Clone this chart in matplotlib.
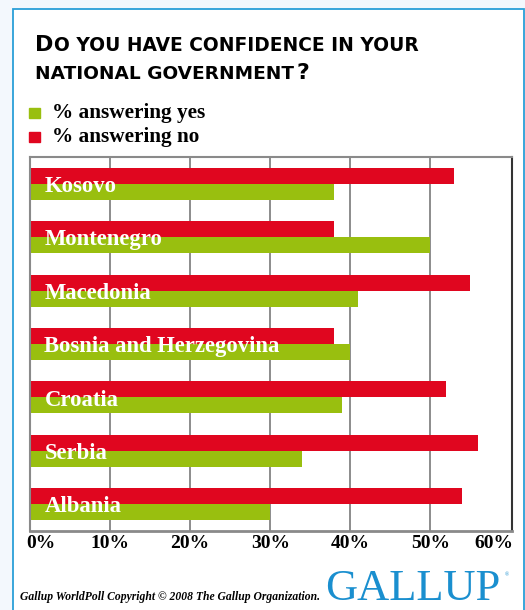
import matplotlib.pyplot as plt
from matplotlib.patches import Rectangle
import matplotlib.transforms as mtransforms
import numpy as np

countries = ["Kosovo", "Montenegro", "Macedonia", "Bosnia and Herzegovina",
             "Croatia", "Serbia", "Albania"]
yes_pct = [38, 50, 41, 40, 39, 34, 30]
no_pct = [53, 38, 55, 38, 52, 56, 54]
ticks = [0, 10, 20, 30, 40, 50, 60]

GREEN = "#99bf0f"
RED = "#e0061f"
BLUE = "#2a9fd8"
SERIF = "Liberation Serif"

fig = plt.figure(figsize=(5.25, 6.1), dpi=100)
fig.patch.set_facecolor("#f3f8fd")

# white panel with blue border
panel = Rectangle((13 / 525, -0.01), (524 - 13) / 525, 1 - 9 / 610 + 0.01,
                  transform=fig.transFigure, facecolor="white",
                  edgecolor=BLUE, linewidth=1.3, zorder=-5)
fig.patches.append(panel)

ax = fig.add_axes([30 / 525, 1 - 531 / 610, 482 / 525, (531 - 157) / 610])
ax.set_zorder(2)
y = np.arange(len(countries))
h = 0.3
ax.barh(y - h / 2, no_pct, height=h, color=RED, zorder=2)
ax.barh(y + h / 2, yes_pct, height=h, color=GREEN, zorder=2)
ax.set_ylim(len(countries) - 0.5, -0.5)
ax.set_xlim(0, 60.2)
ax.set_yticks([])
ax.set_xticks(ticks)
ax.set_xticklabels([f"{t}%" for t in ticks], fontfamily=SERIF,
                   fontweight="bold", fontsize=14)
ax.tick_params(axis="x", length=0, pad=3)
labs = ax.get_xticklabels()
labs[0].set_horizontalalignment("left")
labs[0].set_transform(labs[0].get_transform() + mtransforms.ScaledTranslation(-4 / 100, 0, fig.dpi_scale_trans))
labs[-1].set_horizontalalignment("right")
labs[-1].set_transform(labs[-1].get_transform() + mtransforms.ScaledTranslation(3 / 100, 0, fig.dpi_scale_trans))
for t in ticks[1:-1]:
    ax.axvline(t, color="#6e6e6e", lw=1.1, zorder=1)
for s in ["left", "top", "bottom"]:
    ax.spines[s].set_color("#8a8a8a")
ax.spines["left"].set_linewidth(1.5)
ax.spines["top"].set_linewidth(1.5)
ax.spines["bottom"].set_linewidth(2)
ax.spines["right"].set_color("#333333")
ax.spines["right"].set_linewidth(1.5)

for i, c in enumerate(countries):
    ax.text(1.8, i + 0.05, c, color="white", fontfamily=SERIF,
            fontweight="bold", fontsize=16.3, va="center", ha="left", zorder=3)

# title in small caps
tf = "DejaVu Sans"
t1 = fig.text(35 / 525, 1 - 51 / 610, "D", fontsize=16, fontweight="bold",
              fontfamily=tf, va="baseline", ha="left")
t1b = fig.text(0, 0, "O YOU HAVE CONFIDENCE IN YOUR", fontsize=13.4,
               fontweight="bold", fontfamily=tf, va="baseline", ha="left")
t2 = fig.text(35 / 525, 1 - 79 / 610, "NATIONAL GOVERNMENT", fontsize=13.3,
              fontweight="bold", fontfamily=tf, va="baseline", ha="left")
t2b = fig.text(0, 0, "?", fontsize=16, fontweight="bold",
               fontfamily=tf, va="baseline", ha="left")

# place the small-caps parts right after the preceding text
fig.canvas.draw()
r = fig.canvas.get_renderer()
bb1 = t1.get_window_extent(r)
t1b.set_position((bb1.x1 / fig.bbox.width + 1 / 525, 1 - 51 / 610))
bb2 = t2.get_window_extent(r)
t2b.set_position((bb2.x1 / fig.bbox.width + 2 / 525, 1 - 79 / 610))

# legend
for yy, col, lab in [(108, GREEN, "% answering yes"), (132, RED, "% answering no")]:
    fig.patches.append(Rectangle((29 / 525, 1 - (yy + 10) / 610), 11 / 525, 10 / 610,
                                 transform=fig.transFigure, color=col))
    fig.text(52 / 525, 1 - (yy + 10) / 610, lab, fontfamily=SERIF,
             fontweight="bold", fontsize=15.3, va="baseline", ha="left")

# footer
fig.text(20 / 525, 1 - 600 / 610, "Gallup WorldPoll Copyright \u00a9 2008 The Gallup Organization.",
         fontfamily=SERIF, fontstyle="italic", fontweight="bold", fontsize=8.4,
         va="baseline", ha="left")
fig.text(325 / 525, 1 - 600 / 610, "GALLUP", fontfamily=SERIF, fontsize=32,
         color="#1a8fcf", va="baseline", ha="left")
fig.text(505 / 525, 1 - 576 / 610, "\u00ae", fontfamily=SERIF, fontsize=4,
         color="#1a8fcf", va="baseline", ha="left")

fig.savefig("out.png", dpi=100, facecolor=fig.get_facecolor())
